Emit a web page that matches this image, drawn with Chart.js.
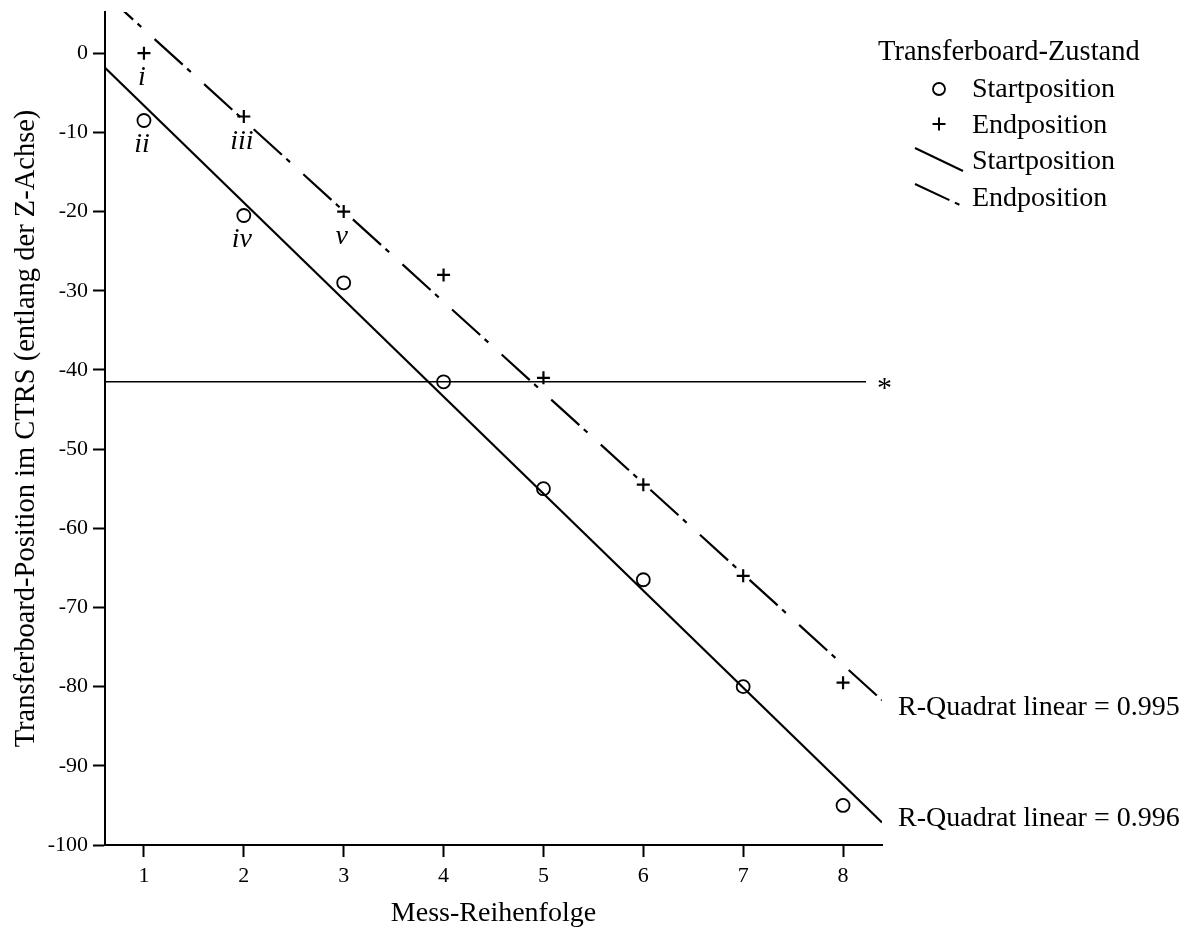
<!DOCTYPE html>
<html>
<head>
<meta charset="utf-8">
<script src="https://cdn.jsdelivr.net/npm/chart.js@4.4.1/dist/chart.umd.min.js"></script>
<style>
  html, body { margin: 0; padding: 0; background: #fff; }
  #wrap { width: 1194px; height: 927px; }
</style>
</head>
<body>
<div id="wrap"><canvas id="chart"></canvas></div>
<script>
// Messungen (Reihenfolge 1..8)
const order = [1, 2, 3, 4, 5, 6, 7, 8];
const startValues = [-8.5, -20.5, -29, -41.5, -55, -66.5, -80, -95];
const endValues = [0, -8, -20, -28, -41, -54.5, -66, -79.5];

const xTicks = [1, 2, 3, 4, 5, 6, 7, 8];
const yTicks = [0, -10, -20, -30, -40, -50, -60, -70, -80, -90, -100];

const rSquaredStart = 0.996;
const rSquaredEnd = 0.995;

// horizontale Referenzlinie (*)
const refLineValue = -41.5;
const refLineEnd = 8.23;

// roemische Markierungen an einzelnen Punkten
const romanLabels = ['i', 'ii', 'iii', 'iv', 'v'];
const romanSeries = ['end', 'start', 'end', 'start', 'end'];
const romanIndex = [0, 0, 1, 1, 2];

const xMin = 0.61, xMax = 8.39;
const FONT = '"Liberation Serif", "Times New Roman", serif';
const endDash = [38, 6, 5, 18];

function linearFit(xs, ys) {
    const n = xs.length;
    const mx = xs.reduce((a, b) => a + b, 0) / n;
    const my = ys.reduce((a, b) => a + b, 0) / n;
    let sxy = 0, sxx = 0;
    for (let i = 0; i < n; i++) {
        sxy += (xs[i] - mx) * (ys[i] - my);
        sxx += (xs[i] - mx) * (xs[i] - mx);
    }
    const slope = sxy / sxx;
    const intercept = my - slope * mx;
    return v => intercept + slope * v;
}

const fitStart = linearFit(order, startValues);
const fitEnd = linearFit(order, endValues);

const toPoints = vals => order.map((v, i) => ({ x: v, y: vals[i] }));
const fitLine = f => [{ x: xMin, y: f(xMin) }, { x: xMax, y: f(xMax) }];

const annotations = {
    id: 'annotations',
    afterDatasetsDraw(chart) {
        const { ctx, scales: { x, y } } = chart;
        ctx.save();
        ctx.fillStyle = '#000';
        ctx.textBaseline = 'alphabetic';

        // i, ii, iii ...
        ctx.font = 'italic 28px ' + FONT;
        ctx.textAlign = 'center';
        romanLabels.forEach((t, k) => {
            const vals = romanSeries[k] === 'start' ? startValues : endValues;
            const i = romanIndex[k];
            ctx.fillText(t, x.getPixelForValue(order[i]) - 2, y.getPixelForValue(vals[i]) + 32);
        });

        // R-Quadrat labels at the right end of the fit lines
        ctx.font = '28px ' + FONT;
        ctx.textAlign = 'left';
        const xr = x.getPixelForValue(xMax) + 16;
        ctx.fillText('R-Quadrat linear = ' + rSquaredEnd.toFixed(3), xr, y.getPixelForValue(fitEnd(xMax)) + 15);
        ctx.fillText('R-Quadrat linear = ' + rSquaredStart.toFixed(3), xr, y.getPixelForValue(fitStart(xMax)) + 4);

        // Stern an der Referenzlinie
        ctx.font = '30px ' + FONT;
        ctx.fillText('*', x.getPixelForValue(refLineEnd) + 11, y.getPixelForValue(refLineValue) + 15);
        ctx.restore();
    },
    afterDraw(chart) {
        const ctx = chart.ctx;
        ctx.save();
        ctx.fillStyle = '#000';
        ctx.strokeStyle = '#000';
        ctx.textBaseline = 'alphabetic';
        ctx.textAlign = 'left';
        ctx.font = '28.5px ' + FONT;
        ctx.fillText('Transferboard-Zustand', 878, 60);

        ctx.font = '28px ' + FONT;
        const tx = 972;
        ctx.fillText('Startposition', tx, 97);
        ctx.fillText('Endposition', tx, 133);
        ctx.fillText('Startposition', tx, 169);
        ctx.fillText('Endposition', tx, 206);

        // circle
        ctx.lineWidth = 1.8;
        ctx.beginPath();
        ctx.arc(939, 89, 6, 0, Math.PI * 2);
        ctx.stroke();
        // cross
        ctx.lineWidth = 2;
        ctx.beginPath();
        ctx.moveTo(932.5, 124); ctx.lineTo(945.5, 124);
        ctx.moveTo(939, 117.5); ctx.lineTo(939, 130.5);
        ctx.stroke();
        // solid line
        ctx.beginPath();
        ctx.moveTo(915, 148); ctx.lineTo(963, 171);
        ctx.stroke();
        // dash-dot line
        ctx.setLineDash(endDash);
        ctx.beginPath();
        ctx.moveTo(915, 184); ctx.lineTo(960, 205);
        ctx.stroke();
        ctx.restore();
    }
};

new Chart(document.getElementById('chart'), {
    type: 'scatter',
    data: {
        datasets: [
            {
                label: 'Startposition (Anpassung)',
                data: fitLine(fitStart),
                showLine: true,
                borderColor: '#000',
                borderWidth: 2.2,
                pointRadius: 0
            },
            {
                label: 'Endposition (Anpassung)',
                data: fitLine(fitEnd),
                showLine: true,
                borderColor: '#000',
                borderWidth: 2.2,
                borderDash: endDash,
                pointRadius: 0
            },
            {
                label: 'Referenz',
                data: [{ x: xMin, y: refLineValue }, { x: refLineEnd, y: refLineValue }],
                showLine: true,
                borderColor: '#000',
                borderWidth: 1.5,
                pointRadius: 0
            },
            {
                label: 'Startposition',
                data: toPoints(startValues),
                pointStyle: 'circle',
                pointRadius: 6.5,
                borderColor: '#000',
                backgroundColor: 'rgba(0,0,0,0)',
                borderWidth: 1.8
            },
            {
                label: 'Endposition',
                data: toPoints(endValues),
                pointStyle: 'cross',
                pointRadius: 6.5,
                borderColor: '#000',
                borderWidth: 2.2
            }
        ]
    },
    options: {
        responsive: true,
        maintainAspectRatio: false,
        animation: false,
        layout: { padding: { top: 12, right: 312, left: 0, bottom: 0 } },
        plugins: {
            legend: { display: false },
            tooltip: { enabled: false }
        },
        scales: {
            x: {
                type: 'linear',
                min: xMin,
                max: xMax,
                afterBuildTicks: s => { s.ticks = xTicks.map(v => ({ value: v })); },
                afterFit: s => { s.height = 82; s.paddingLeft = 0; s.paddingRight = 0; },
                border: { color: '#000', width: 2 },
                grid: { drawOnChartArea: false, drawTicks: true, tickLength: 12, tickColor: '#000', tickWidth: 2 },
                ticks: { color: '#000', padding: 8, font: { family: FONT, size: 22, lineHeight: 1 } },
                title: {
                    display: true,
                    text: 'Mess-Reihenfolge',
                    color: '#000',
                    font: { family: FONT, size: 28, lineHeight: 1 },
                    padding: { top: 0, bottom: -1 }
                }
            },
            y: {
                type: 'linear',
                min: -100,
                max: 5.2,
                afterBuildTicks: s => { s.ticks = yTicks.map(v => ({ value: v })); },
                afterFit: s => { s.width = 105; s.paddingTop = 0; s.paddingBottom = 0; },
                border: { color: '#000', width: 2 },
                grid: { drawOnChartArea: false, drawTicks: true, tickLength: 12, tickColor: '#000', tickWidth: 2 },
                ticks: { color: '#000', padding: 5, font: { family: FONT, size: 22, lineHeight: 1 } },
                title: {
                    display: true,
                    text: 'Transferboard-Position im CTRS (entlang der Z-Achse)',
                    color: '#000',
                    font: { family: FONT, size: 28.5, lineHeight: 1 },
                    padding: { top: 12, bottom: 0 }
                }
            }
        }
    },
    plugins: [annotations]
});
</script>
</body>
</html>
